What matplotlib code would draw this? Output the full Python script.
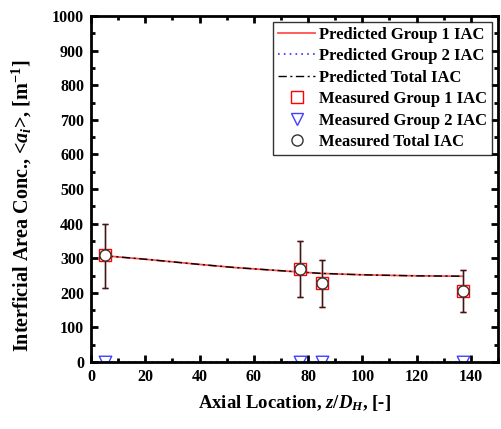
import matplotlib
matplotlib.use("Agg")
import matplotlib.pyplot as plt
from matplotlib.lines import Line2D
from matplotlib.ticker import MultipleLocator

plt.rcParams['font.family'] = 'Liberation Serif'
plt.rcParams['font.weight'] = 'bold'
plt.rcParams['mathtext.fontset'] = 'custom'
plt.rcParams['mathtext.rm'] = 'Liberation Serif:bold'
plt.rcParams['mathtext.it'] = 'Liberation Serif:italic:bold'
plt.rcParams['mathtext.bf'] = 'Liberation Serif:bold'

# Predicted interfacial area concentration along the channel
pred_z = [5, 20, 40, 53, 77, 85, 100, 120, 137]
pred_g1 = [307, 297, 282, 273, 260, 256, 252, 249, 248]
pred_g2 = [0, 0, 0, 0, 0, 0, 0, 0, 0]
pred_total = [307, 297, 282, 273, 260, 256, 252, 249, 248]

# Measured values at the instrumented ports
meas_z = [5, 77, 85, 137]
meas_g1 = [308, 268, 229, 206]
meas_g2 = [0, 0, 0, 0]
meas_total = [309, 269, 229, 206]
err_low = [215, 188, 160, 145]
err_high = [400, 350, 295, 266]

fig = plt.figure(figsize=(5.01, 4.29), dpi=100)
ax = fig.add_axes([91/501, 1-362/429, (498-91)/501, (362-16)/429])

yerr = [[t - lo for t, lo in zip(meas_total, err_low)],
        [hi - t for t, hi in zip(meas_total, err_high)]]
yerr_g1 = [[g - lo for g, lo in zip(meas_g1, err_low)],
           [hi - g for g, hi in zip(meas_g1, err_high)]]

ax.errorbar(meas_z, meas_g1, yerr=yerr_g1, fmt='none', ecolor='red', elinewidth=1,
            capsize=2.5, zorder=2)
ax.plot(pred_z, pred_g1, color='#ff5050', lw=1.3, label='Predicted Group 1 IAC', zorder=3)
ax.plot(pred_z, pred_g2, color='#3030ff', lw=1.2, ls=(0, (1, 2.5)),
        label='Predicted Group 2 IAC', zorder=3)
ax.plot(pred_z, pred_total, color='black', lw=1.0, ls=(0, (6, 2.5, 1.5, 2.5)),
        label='Predicted Total IAC', zorder=3)
ax.plot(meas_z, meas_g1, ls='none', marker='s', ms=8, mfc='white', mec='red', mew=1,
        label='Measured Group 1 IAC', zorder=4)
# group 2 markers sit on the axis and are cut by the plotting area
ax.scatter(meas_z, meas_g2, marker='v', s=81, facecolors='white', edgecolors='#4040ff',
           linewidths=1, zorder=1.5, clip_on=True)
ax.errorbar(meas_z, meas_total, yerr=yerr, fmt='none', ecolor='#222222', elinewidth=1,
            capsize=2.5, zorder=4)
ax.plot(meas_z, meas_total, ls='none', marker='o', ms=8, mfc='white', mec='#333333', mew=1,
        label='Measured Total IAC', zorder=5)

ax.set_xlim(0, 150)
ax.set_ylim(0, 1000)
ax.xaxis.set_major_locator(MultipleLocator(20))
ax.xaxis.set_minor_locator(MultipleLocator(10))
ax.yaxis.set_major_locator(MultipleLocator(100))
ax.yaxis.set_minor_locator(MultipleLocator(50))
ax.set_xticks(range(0, 141, 20))
ax.tick_params(which='both', direction='in', top=True, right=True, width=2, labelsize=11.5)
ax.tick_params(which='major', length=5, pad=5)
ax.tick_params(which='minor', length=3)
for s in ax.spines.values():
    s.set_linewidth(2)
    s.set_zorder(6)

ax.set_xlabel(r'Axial Location, $z/D_H$, [-]', fontsize=13.5, fontweight='bold', labelpad=6)
ax.set_ylabel(r'Interficial Area Conc., <$a_i$>, [m$^{-1}$]', fontsize=14.5, fontweight='bold')
ax.yaxis.set_label_coords(-0.14, 0.45)

handles, labels = ax.get_legend_handles_labels()
g2_handle = Line2D([], [], ls='none', marker='v', ms=9, mfc='white', mec='#4040ff', mew=1)
handles.insert(4, g2_handle)
labels.insert(4, 'Measured Group 2 IAC')
leg = ax.legend(handles, labels, loc='upper right', fontsize=12, frameon=True,
                fancybox=False, edgecolor='black', handlelength=2.2, borderpad=0.3,
                labelspacing=0.33, handletextpad=0.25, borderaxespad=0.35)
leg.get_frame().set_linewidth(1)
leg.set_zorder(7)

fig.savefig('out.png', dpi=100)
